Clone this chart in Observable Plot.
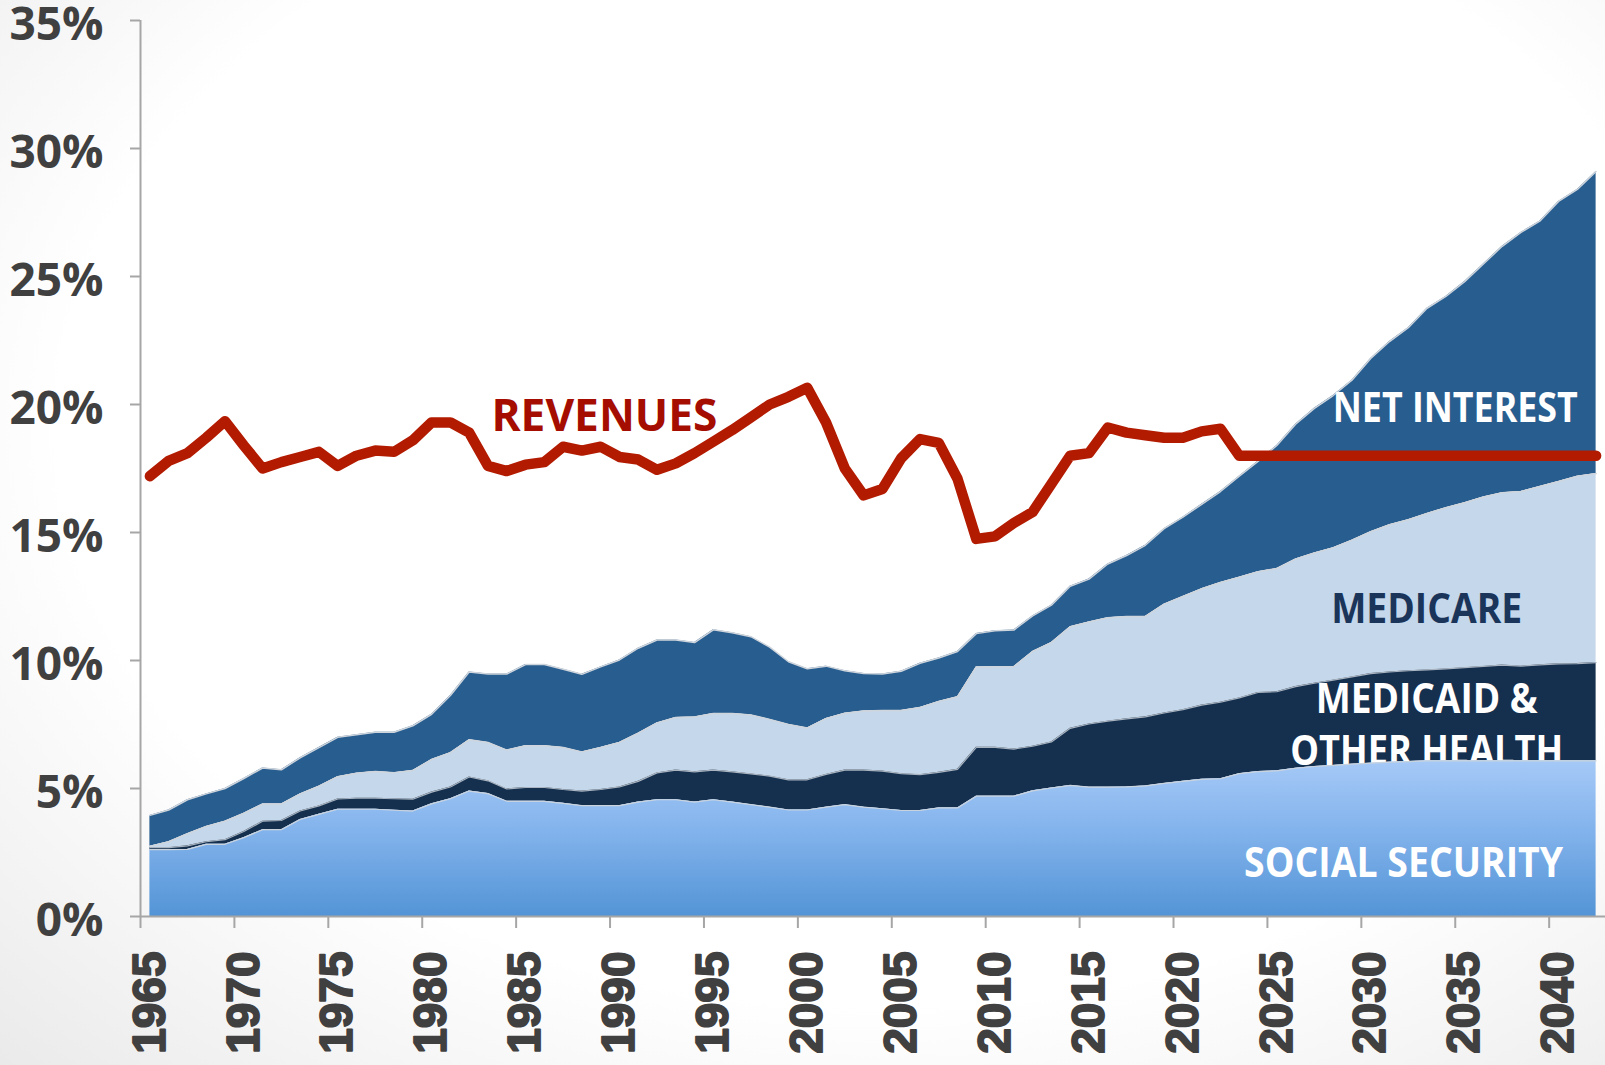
<!DOCTYPE html>
<html>
<head>
<meta charset="utf-8">
<script src="https://cdn.jsdelivr.net/npm/d3@7"></script>
<script src="https://cdn.jsdelivr.net/npm/@observablehq/plot@0.6"></script>
<style>
html, body { margin: 0; padding: 0; width: 1605px; height: 1065px; overflow: hidden;
  background: radial-gradient(ellipse 80% 85% at 55% 40%, #ffffff 64%, #e9e9e9 100%); }
svg { display: block; background: transparent; }
</style>
</head>
<body>
<div id="chart"></div>
<script>
// Fiscal years (categories)
const years = d3.range(1965, 2043);

// Spending components, % of GDP
const socialSecurity = [
  2.61, 2.61, 2.62, 2.82, 2.82, 3.08, 3.39, 3.39, 3.79, 3.99,
  4.19, 4.19, 4.19, 4.15, 4.12, 4.40, 4.60, 4.90, 4.80, 4.50,
  4.50, 4.50, 4.42, 4.33, 4.33, 4.33, 4.47, 4.56, 4.56, 4.47,
  4.56, 4.47, 4.37, 4.27, 4.16, 4.16, 4.27, 4.37, 4.27, 4.21,
  4.14, 4.14, 4.24, 4.24, 4.70, 4.70, 4.70, 4.91, 5.02, 5.12,
  5.05, 5.05, 5.06, 5.10, 5.20, 5.28, 5.36, 5.38, 5.58, 5.66,
  5.69, 5.79, 5.86, 5.90, 5.95, 5.99, 6.03, 6.05, 6.08, 6.08,
  6.08, 6.08, 6.08, 6.08, 6.08, 6.08, 6.08, 6.08
];
const medicaidOther = [
  0.08, 0.08, 0.14, 0.10, 0.18, 0.24, 0.33, 0.36, 0.33, 0.33,
  0.40, 0.43, 0.43, 0.45, 0.46, 0.46, 0.46, 0.55, 0.50, 0.48,
  0.54, 0.54, 0.54, 0.57, 0.63, 0.73, 0.81, 1.05, 1.16, 1.18,
  1.16, 1.18, 1.20, 1.21, 1.18, 1.18, 1.28, 1.35, 1.45, 1.47,
  1.44, 1.40, 1.39, 1.51, 1.91, 1.91, 1.84, 1.74, 1.80, 2.23,
  2.47, 2.58, 2.66, 2.70, 2.75, 2.80, 2.90, 2.99, 2.96, 3.09,
  3.09, 3.19, 3.25, 3.33, 3.41, 3.50, 3.52, 3.55, 3.55, 3.59,
  3.64, 3.69, 3.74, 3.70, 3.75, 3.79, 3.80, 3.84
];
const medicare = [
  0.05, 0.23, 0.47, 0.60, 0.72, 0.71, 0.67, 0.64, 0.67, 0.77,
  0.87, 0.98, 1.04, 1.02, 1.12, 1.27, 1.34, 1.45, 1.50, 1.52,
  1.63, 1.63, 1.64, 1.53, 1.64, 1.74, 1.88, 1.95, 2.05, 2.14,
  2.21, 2.28, 2.30, 2.22, 2.16, 2.02, 2.18, 2.22, 2.31, 2.37,
  2.47, 2.62, 2.77, 2.83, 3.14, 3.15, 3.22, 3.70, 3.88, 3.97,
  3.98, 4.04, 4.00, 3.92, 4.25, 4.42, 4.54, 4.68, 4.71, 4.72,
  4.81, 4.98, 5.09, 5.17, 5.34, 5.54, 5.75, 5.90, 6.11, 6.30,
  6.44, 6.62, 6.73, 6.82, 6.97, 7.12, 7.32, 7.38
];
const netInterest = [
  1.21, 1.24, 1.33, 1.27, 1.28, 1.36, 1.41, 1.34, 1.41, 1.51,
  1.54, 1.50, 1.54, 1.58, 1.75, 1.77, 2.23, 2.65, 2.67, 2.97,
  3.17, 3.17, 3.06, 3.03, 3.15, 3.22, 3.32, 3.24, 3.03, 2.91,
  3.27, 3.15, 3.06, 2.82, 2.45, 2.32, 2.05, 1.66, 1.46, 1.42,
  1.53, 1.73, 1.70, 1.77, 1.30, 1.40, 1.43, 1.39, 1.46, 1.58,
  1.68, 2.10, 2.38, 2.78, 2.95, 3.10, 3.30, 3.55, 3.95, 4.31,
  4.81, 5.27, 5.65, 5.95, 6.25, 6.77, 7.16, 7.50, 8.02, 8.25,
  8.64, 9.10, 9.63, 10.12, 10.36, 10.94, 11.20, 11.80
];
// Revenues, % of GDP
const revenues = [
  17.2, 17.8, 18.1, 18.7, 19.35, 18.4, 17.5, 17.75, 17.95, 18.15,
  17.6, 18.0, 18.2, 18.15, 18.6, 19.3, 19.3, 18.9, 17.6, 17.4,
  17.65, 17.75, 18.35, 18.2, 18.35, 17.95, 17.85, 17.45, 17.7, 18.1,
  18.55, 19.0, 19.5, 20.0, 20.3, 20.65, 19.3, 17.5, 16.45, 16.7,
  17.9, 18.65, 18.5, 17.1, 14.75, 14.85, 15.37, 15.8, 16.9, 18.0,
  18.1, 19.1, 18.9, 18.8, 18.7, 18.7, 18.95, 19.05, 18.0, 18.0,
  18.0, 18.0, 18.0, 18.0, 18.0, 18.0, 18.0, 18.0, 18.0, 18.0,
  18.0, 18.0, 18.0, 18.0, 18.0, 18.0, 18.0, 18.0
];

// Tick labels
const yTicks = [0, 5, 10, 15, 20, 25, 30, 35];
const xLabelYears = [1965, 1970, 1975, 1980, 1985, 1990, 1995, 2000, 2005, 2010, 2015, 2020, 2025, 2030, 2035, 2040];

// Series labels
const seriesLabels = [
  {text: "NET INTEREST", year: 2034.5, value: 19.3, fill: "#ffffff", len: 245},
  {text: "MEDICARE", year: 2032.98, value: 11.45, fill: "#1b355a", len: 191},
  {text: "MEDICAID &", year: 2032.98, value: 7.93, fill: "#ffffff", len: 222},
  {text: "OTHER HEALTH", year: 2032.98, value: 5.92, fill: "#ffffff", len: 273}
];
const ssLabel = [{text: "SOCIAL SECURITY", year: 2031.75, value: 1.56, fill: "#ffffff", len: 319}];
const revLabel = [{text: "REVENUES", year: 1989.2, value: 18.98, fill: "#a50d00", len: 226}];

const rows = years.map((year, i) => {
  const s = socialSecurity[i];
  const d = s + medicaidOther[i];
  const m = d + medicare[i];
  const t = m + netInterest[i];
  return {year, s, d, m, t, rev: revenues[i]};
});
const xTickBounds = xLabelYears.map(y => y - 0.5);

const labelFont = {fontFamily: "Open Sans", fontWeight: "bold", fontSize: 42, textAnchor: "middle", lineAnchor: "bottom"};

const chart = Plot.plot({
  width: 1605,
  height: 1065,
  marginLeft: 140,
  marginRight: 0,
  marginTop: 20,
  marginBottom: 149,
  style: {background: "transparent", overflow: "visible"},
  x: {type: "linear", domain: [1964.5, 2042.5], label: null},
  y: {domain: [0, 35], label: null},
  marks: [
    () => {
      const defs = d3.create("svg:defs");
      const g = defs.append("linearGradient").attr("id", "ssGrad")
        .attr("x1", 0).attr("y1", 0).attr("x2", 0).attr("y2", 1);
      g.append("stop").attr("offset", "0%").attr("stop-color", "#a5c9f7");
      g.append("stop").attr("offset", "45%").attr("stop-color", "#83b3ec");
      g.append("stop").attr("offset", "100%").attr("stop-color", "#5394d6");
      return defs.node();
    },
    Plot.areaY(rows, {x: "year", y1: "m", y2: "t", fill: "#285d8f"}),
    Plot.areaY(rows, {x: "year", y1: "d", y2: "m", fill: "#c5d7ea"}),
    Plot.areaY(rows, {x: "year", y1: "s", y2: "d", fill: "#15304f"}),
    Plot.line(rows, {x: "year", y: "t", stroke: "#cfd5dc", strokeWidth: 1.5}),
    Plot.line(rows, {x: "year", y: "m", stroke: "#cfd5dc", strokeWidth: 1.5}),
    Plot.line(rows, {x: "year", y: "d", stroke: "#a9b4c0", strokeWidth: 1.2}),
    Plot.text(seriesLabels, {x: "year", y: "value", text: "text", fill: "fill", ...labelFont}),
    Plot.areaY(rows, {x: "year", y1: 0, y2: "s", fill: "url(#ssGrad)"}),
    Plot.line(rows, {x: "year", y: "s", stroke: "#c9d3de", strokeWidth: 1.2}),
    Plot.text(ssLabel, {x: "year", y: "value", text: "text", fill: "fill", ...labelFont}),
    Plot.line(rows, {x: "year", y: "rev", stroke: "#b31b00", strokeWidth: 10.5, strokeLinejoin: "round", strokeLinecap: "round"}),
    Plot.text(revLabel, {x: "year", y: "value", text: "text", fill: "fill", ...labelFont, fontSize: 44}),
    // axes
    Plot.ruleX([1964.5], {y1: 0, y2: 35, stroke: "#a6a6a6", strokeWidth: 2}),
    Plot.ruleY([0], {stroke: "#a6a6a6", strokeWidth: 2}),
    Plot.axisY({ticks: yTicks, tickSize: 10, tickFormat: () => "", stroke: "#a6a6a6", strokeWidth: 2, label: null}),
    Plot.text(yTicks, {x: 1964.5, y: d => d, text: d => d + "%", dx: -37, dy: 5, textAnchor: "end", lineAnchor: "middle",
      fontFamily: "Open Sans", fontWeight: "bold", fontSize: 46, fill: "#404040"}),
    Plot.axisX({ticks: xTickBounds, tickSize: 12, tickFormat: () => "", stroke: "#a6a6a6", strokeWidth: 2, label: null}),
    Plot.text(xLabelYears, {x: d => d, frameAnchor: "bottom", dy: 35, rotate: -90, text: d => String(d),
      textAnchor: "end", lineAnchor: "middle", fontFamily: "Liberation Sans", fontWeight: "bold", fontSize: 46,
      fill: "#404040", stroke: "#404040", strokeWidth: 1.8})
  ]
});

// condense the series labels to the reference widths
const lengths = {};
[...seriesLabels, ...ssLabel, ...revLabel].forEach(d => lengths[d.text] = d.len);
d3.select(chart).selectAll("text").each(function () {
  const t = this.textContent;
  if (lengths[t]) {
    this.setAttribute("textLength", lengths[t]);
    this.setAttribute("lengthAdjust", "spacingAndGlyphs");
  }
});

document.getElementById("chart").appendChild(chart);
</script>
</body>
</html>
